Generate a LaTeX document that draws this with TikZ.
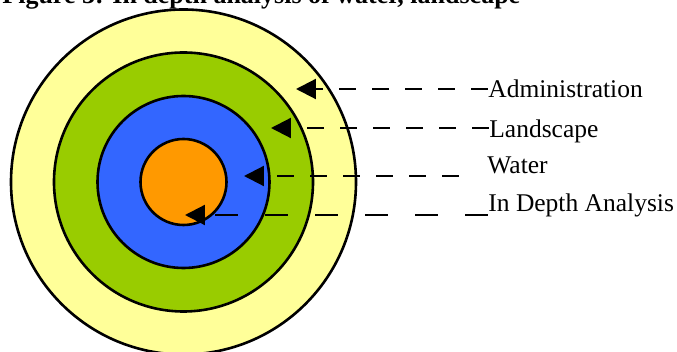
\documentclass[tikz,border=0pt]{standalone}
\usepackage{fontspec}
\setmainfont{Liberation Serif}
\usepackage{xcolor}
\usetikzlibrary{positioning, arrows.meta, calc}

\definecolor{adminYellow}{HTML}{FFFF99}
\definecolor{landGreen}{HTML}{99CC00}
\definecolor{waterBlue}{HTML}{3366FF}
\definecolor{coreOrange}{HTML}{FF9900}

\begin{document}
\begin{tikzpicture}[
    x=0.5pt, y=-0.5pt,
    ringNode/.style={circle, draw, line width=1.3pt, inner sep=0pt},
    labelNode/.style={inner sep=0pt, anchor=base west, font=\fontsize{12.75pt}{15pt}\selectfont},
    pointer/.style={line width=1.1pt, dash pattern=on 8.5pt off 8pt, -{Triangle[length=10pt, width=10pt]}}
]
    \useasboundingbox (0,0) rectangle (677,352);

    % Title (cut by the page edge)
    \node[labelNode, font=\fontsize{13pt}{15pt}\selectfont\bfseries] (title) at (2,4) {Figure 3: In depth analysis of water, landscape};

    % Rings
    \node[ringNode, fill=adminYellow, minimum size=172.5pt] (ringAdmin) at (183.5,182) {};
    \node[ringNode, fill=landGreen, minimum size=129.5pt] (ringLand) at (ringAdmin.center) {};
    \node[ringNode, fill=waterBlue, minimum size=86pt] (ringWater) at (ringAdmin.center) {};
    \node[ringNode, fill=coreOrange, minimum size=43pt] (ringCore) at (ringAdmin.center) {};

    % Labels
    \node[labelNode] (lbAdmin) at (488,98) {Administration};
    \node[labelNode] (lbLand) at (489,138) {Landscape};
    \node[labelNode] (lbWater) at (487,174) {Water};
    \node[labelNode] (lbDepth) at (488,212) {In Depth Analysis};

    % Arrow ends
    \coordinate (tipAdmin) at (296,89);
    \coordinate (tipLand) at (271,128);
    \coordinate (tipWater) at (244,176);
    \coordinate (tipDepth) at (185,215);

    % Dashed pointers
    \draw[pointer] (lbAdmin.west |- tipAdmin) -- (tipAdmin);
    \draw[pointer] (lbLand.west |- tipLand) -- (tipLand);
    \draw[pointer] ([xshift=-14pt]lbWater.west |- tipWater) -- (tipWater);
    \draw[pointer, dash pattern=on 11.5pt off 13.5pt] (lbDepth.west |- tipDepth) -- (tipDepth);

\end{tikzpicture}
\end{document}
